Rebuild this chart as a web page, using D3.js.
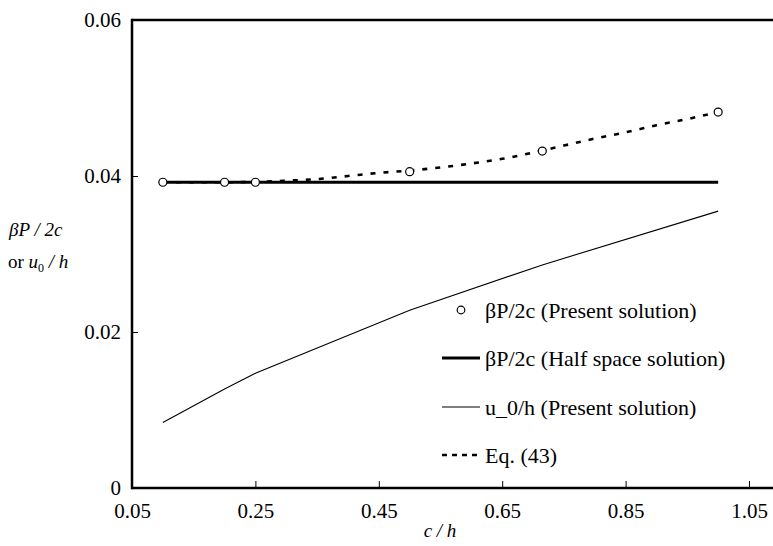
<!DOCTYPE html>
<html><head><meta charset="utf-8">
<script src="https://cdn.jsdelivr.net/npm/d3@7"></script>
<style>body{margin:0;background:#fff}svg{display:block}text{font-family:"Liberation Serif","Times New Roman",serif;fill:#000}</style>
</head><body><svg id="c" width="773" height="546"></svg>
<script>
// Data
const xTicks = [0.05, 0.25, 0.45, 0.65, 0.85, 1.05];
const yTicks = [0, 0.02, 0.04, 0.06];
const presentX = [0.1, 0.2, 0.25, 0.5, 0.715, 1.0];
const presentY = [0.0392, 0.0392, 0.0392, 0.04055, 0.0432, 0.0482];
const halfX = [0.1, 1.0];
const halfY = [0.0392, 0.0392];
const u0X = [0.1, 0.2, 0.25, 0.5, 0.715, 1.0];
const u0Y = [0.0084, 0.0127, 0.0147, 0.0228, 0.0286, 0.0355];
const eqX = [0.1, 0.2, 0.25, 0.3, 0.35, 0.4, 0.45, 0.5, 0.55, 0.6, 0.65, 0.7, 0.75, 0.8, 0.85, 0.9, 0.95, 1.0];
const eqY = [0.0392, 0.0392, 0.03925, 0.0394, 0.0396, 0.0400, 0.0404, 0.0407, 0.0411, 0.0416, 0.0422, 0.0430, 0.0439, 0.0448, 0.0456, 0.0465, 0.0473, 0.0482];
const legendLabels = ["βP/2c (Present solution)", "βP/2c (Half space solution)", "u_0/h (Present solution)", "Eq. (43)"];

const svg = d3.select("#c");
const x = d3.scaleLinear().domain([0.05, 1.05]).range([132, 749]);
const y = d3.scaleLinear().domain([0, 0.06]).range([488, 20]);
const fmt = d => d === 0 ? "0" : d3.format(".2f")(d);

// axes
const xa = svg.append("g").attr("transform", "translate(0,488)")
  .call(d3.axisBottom(x).tickValues(xTicks).tickSizeInner(-7).tickSizeOuter(0).tickPadding(15).tickFormat(d3.format(".2f")));
xa.select(".domain").remove();
xa.selectAll(".tick line").attr("stroke", "#000").attr("stroke-width", 1);
xa.selectAll("text").attr("font-size", 21).attr("dy", "0.71em");

const ya = svg.append("g").attr("transform", "translate(132,0)")
  .call(d3.axisLeft(y).tickValues(yTicks).tickSizeInner(-6).tickSizeOuter(0).tickPadding(11).tickFormat(fmt));
ya.select(".domain").remove();
ya.selectAll(".tick line").attr("stroke", "#000").attr("stroke-width", 1);
ya.selectAll("text").attr("font-size", 21);

// frame lines
svg.append("line").attr("x1", 132).attr("x2", 773).attr("y1", y(0)).attr("y2", y(0)).attr("stroke", "#000").attr("stroke-width", 2.5);
svg.append("line").attr("x1", 132).attr("x2", 773).attr("y1", y(0.06)).attr("y2", y(0.06)).attr("stroke", "#000").attr("stroke-width", 2.5);
svg.append("line").attr("x1", 132).attr("x2", 132).attr("y1", y(0.06) - 1.25).attr("y2", y(0) + 1.25).attr("stroke", "#000").attr("stroke-width", 2.5);

const line = d3.line().x(d => x(d[0])).y(d => y(d[1]));
const zip = (a, b) => a.map((v, i) => [v, b[i]]);

svg.append("path").attr("d", line(zip(u0X, u0Y))).attr("fill", "none").attr("stroke", "#000").attr("stroke-width", 1.1);
svg.append("path").attr("d", line(zip(halfX, halfY))).attr("fill", "none").attr("stroke", "#000").attr("stroke-width", 3);
svg.append("path").attr("d", d3.line().curve(d3.curveMonotoneX).x(d => x(d[0])).y(d => y(d[1]))(zip(eqX, eqY)))
  .attr("fill", "none").attr("stroke", "#000").attr("stroke-width", 2.6).attr("stroke-dasharray", "5,8");
svg.append("g").selectAll("circle").data(zip(presentX, presentY)).join("circle")
  .attr("cx", d => x(d[0])).attr("cy", d => y(d[1])).attr("r", 4).attr("fill", "#fff").attr("stroke", "#000").attr("stroke-width", 1.2);

// legend
const lg = svg.append("g");
const ly = [310, 358, 407, 455];
lg.append("circle").attr("cx", 461).attr("cy", ly[0]).attr("r", 3.8).attr("fill", "#fff").attr("stroke", "#000").attr("stroke-width", 1.2);
lg.append("line").attr("x1", 442).attr("x2", 480).attr("y1", ly[1]).attr("y2", ly[1]).attr("stroke", "#000").attr("stroke-width", 3);
lg.append("line").attr("x1", 442).attr("x2", 480).attr("y1", ly[2]).attr("y2", ly[2]).attr("stroke", "#000").attr("stroke-width", 1.1);
lg.append("line").attr("x1", 442).attr("x2", 480).attr("y1", ly[3]).attr("y2", ly[3]).attr("stroke", "#000").attr("stroke-width", 2.6).attr("stroke-dasharray", "5,5");
legendLabels.forEach((t, i) => {
  lg.append("text").attr("x", 485).attr("y", ly[i]).attr("dy", "0.35em").attr("font-size", 22).text(t);
});

// axis titles
svg.append("text").attr("x", 440).attr("y", 537).attr("text-anchor", "middle").attr("font-size", 19).attr("font-style", "italic").text("c / h");
const t1 = svg.append("text").attr("x", 9).attr("y", 236).attr("font-size", 19);
t1.append("tspan").attr("font-style", "italic").text("βP / 2c");
const t2 = svg.append("text").attr("x", 8).attr("y", 268).attr("font-size", 19);
t2.append("tspan").text("or ");
t2.append("tspan").attr("font-style", "italic").text("u");
t2.append("tspan").attr("font-size", 12).attr("dy", 4).text("0");
t2.append("tspan").attr("font-style", "italic").attr("dy", -4).text(" / h");
</script></body></html>
